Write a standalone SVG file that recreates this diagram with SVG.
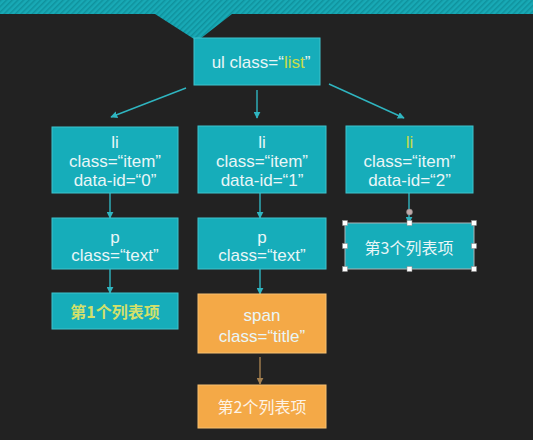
<svg xmlns="http://www.w3.org/2000/svg" width="533" height="440" viewBox="0 0 533 440">
<style>
.t{fill:#16adba;stroke:#3ec3cd;stroke-width:1}
.o{fill:#f4a947;stroke:#f8c070;stroke-width:1}
.tx{font-family:"Liberation Sans","Noto Sans CJK SC",sans-serif;font-size:17px;fill:#e9f6f7;text-anchor:middle}
.cj{font-family:"Noto Sans CJK SC",sans-serif;font-size:16px;text-anchor:middle}
.c{stroke:#2fb5c0;stroke-width:1.4;fill:none}
.h{fill:#ffffff;stroke:#888;stroke-width:0.5}
</style>
<defs>
<pattern id="st" width="4" height="4" patternUnits="userSpaceOnUse" patternTransform="rotate(45)">
<rect width="4" height="4" fill="#18a9b5"/>
<rect width="1.5" height="4" fill="#0f929d"/>
</pattern>
<marker id="ah" viewBox="0 0 10 10" refX="9" refY="5" markerWidth="5" markerHeight="5" orient="auto">
<path d="M0,0 L10,5 L0,10 z" fill="#2fb5c0"/>
</marker>
<marker id="ab" viewBox="0 0 10 10" refX="9" refY="5" markerWidth="5" markerHeight="5" orient="auto">
<path d="M0,0 L10,5 L0,10 z" fill="#a5804f"/>
</marker>
</defs>
<rect width="533" height="440" fill="#222222"/>
<polygon points="0,0 533,0 533,14 232,14 200,39 194,39 155,14 0,14" fill="url(#st)"/>

<g id="connectors">
<line class="c" x1="186" y1="88" x2="111" y2="117" marker-end="url(#ah)"/>
<line class="c" x1="257" y1="90" x2="257" y2="118" marker-end="url(#ah)"/>
<line class="c" x1="329" y1="84" x2="404" y2="118" marker-end="url(#ah)"/>
<line class="c" x1="110" y1="193" x2="110" y2="218" marker-end="url(#ah)"/>
<line class="c" x1="260" y1="193" x2="260" y2="218" marker-end="url(#ah)"/>
<line class="c" x1="409" y1="193" x2="409" y2="223" marker-end="url(#ah)"/>
<line class="c" x1="110" y1="269" x2="110" y2="293" marker-end="url(#ah)"/>
<line class="c" x1="260" y1="269" x2="260" y2="294" marker-end="url(#ah)"/>
<line x1="260" y1="357" x2="260" y2="384" stroke="#a5804f" stroke-width="1.4" marker-end="url(#ab)"/>
</g>

<g id="ul">
<rect class="t" x="194" y="38" width="126" height="47"/>
<text class="tx" x="261" y="68">ul class=“<tspan fill="#c9dc4a">list</tspan>”</text>
</g>

<g id="li0">
<rect class="t" x="52" y="127" width="126" height="66"/>
<text class="tx" x="115" y="148">li</text>
<text class="tx" x="115" y="167">class=“item”</text>
<text class="tx" x="115" y="186">data-id=“0”</text>
</g>
<g id="li1">
<rect class="t" x="198" y="126" width="128" height="67"/>
<text class="tx" x="262" y="148">li</text>
<text class="tx" x="262" y="167">class=“item”</text>
<text class="tx" x="262" y="186">data-id=“1”</text>
</g>
<g id="li2">
<rect class="t" x="346" y="126" width="127" height="67"/>
<text class="tx" x="409.5" y="148" style="fill:#c9dc4a">li</text>
<text class="tx" x="409.5" y="167">class=“item”</text>
<text class="tx" x="409.5" y="186">data-id=“2”</text>
</g>

<g id="p0">
<rect class="t" x="52" y="218" width="126" height="51"/>
<text class="tx" x="115" y="243">p</text>
<text class="tx" x="115" y="261">class=“text”</text>
</g>
<g id="p1">
<rect class="t" x="198" y="218" width="128" height="51"/>
<text class="tx" x="262" y="243">p</text>
<text class="tx" x="262" y="261">class=“text”</text>
</g>

<g id="item3">
<rect class="t" x="345" y="223" width="129" height="46" style="stroke:#aab4b5"/>
<text class="cj" x="409" y="254" fill="#e9f6f7">第3个列表项</text>
<circle cx="409.5" cy="212" r="3" fill="#c0a8a8" stroke="#888" stroke-width="0.5"/>
<rect class="h" x="342.5" y="220.5" width="5" height="5"/>
<rect class="h" x="407" y="220.5" width="5" height="5"/>
<rect class="h" x="471.5" y="220.5" width="5" height="5"/>
<rect class="h" x="342.5" y="243.5" width="5" height="5"/>
<rect class="h" x="471.5" y="243.5" width="5" height="5"/>
<rect class="h" x="342.5" y="266.5" width="5" height="5"/>
<rect class="h" x="407" y="266.5" width="5" height="5"/>
<rect class="h" x="471.5" y="266.5" width="5" height="5"/>
</g>

<g id="item1">
<rect class="t" x="52" y="293" width="126" height="36"/>
<text class="cj" x="115" y="318" fill="#d3e06a" font-weight="600">第1个列表项</text>
</g>

<g id="span">
<rect class="o" x="198" y="294" width="128" height="59"/>
<text class="tx" x="262" y="321">span</text>
<text class="tx" x="262" y="342">class=“title”</text>
</g>

<g id="item2">
<rect class="o" x="198" y="385" width="128" height="43"/>
<text class="cj" x="262" y="413" fill="#fdf3e6">第2个列表项</text>
</g>
</svg>
